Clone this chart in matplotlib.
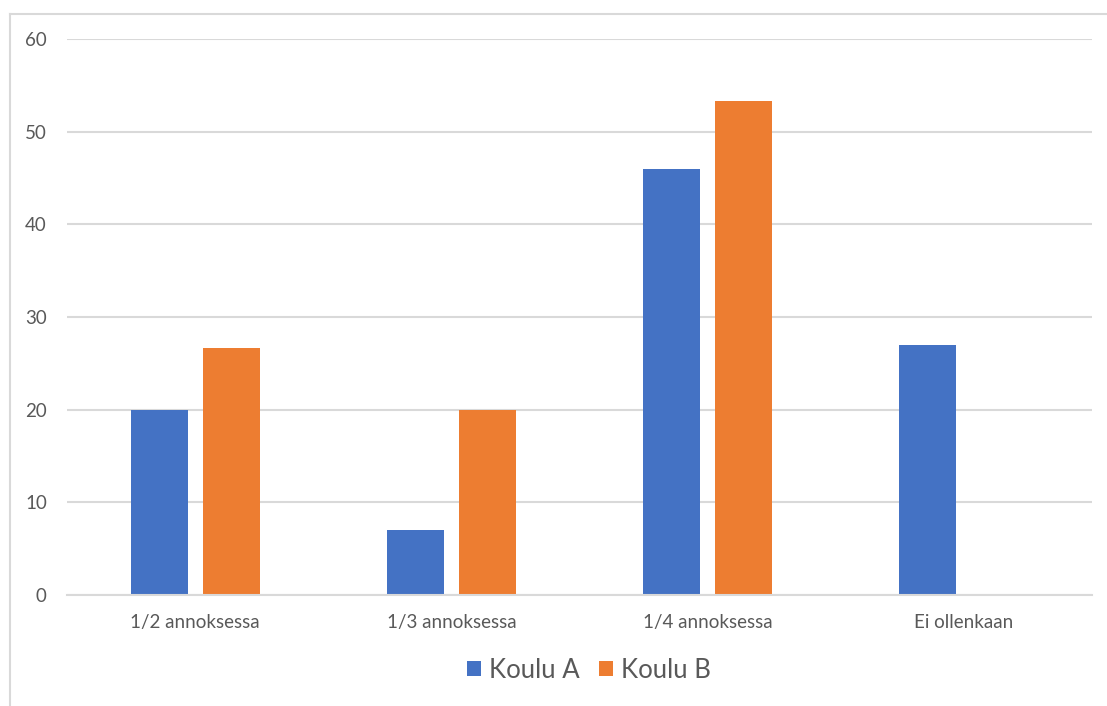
import matplotlib
matplotlib.use("Agg")
import matplotlib.pyplot as plt
from matplotlib.lines import Line2D
from matplotlib.patches import Patch
import numpy as np

categories = ["1/2 annoksessa", "1/3 annoksessa", "1/4 annoksessa", "Ei ollenkaan"]
series_names = ["Koulu A", "Koulu B"]
koulu_a = [20, 7, 46, 27]
koulu_b = [26.7, 20, 53.3, 0]
y_ticks = [0, 10, 20, 30, 40, 50, 60]

colors = ["#4472C4", "#ED7D31"]
text_color = "#595959"
grid_color = "#D9D9D9"

plt.rcParams["font.family"] = ["Lato", "DejaVu Sans"]

W, H = 1107, 706
fig = plt.figure(figsize=(W / 100, H / 100), dpi=100)
ax = fig.add_axes([67 / W, 1 - 595 / H, (1092 - 67) / W, (595 - 39) / H])

x = np.arange(len(categories))
width = 0.222
offset = 0.1405
ax.bar(x - offset, koulu_a, width, color=colors[0], label=series_names[0], zorder=3)
ax.bar(x + offset, koulu_b, width, color=colors[1], label=series_names[1], zorder=3)

ax.set_xlim(-0.5, len(categories) - 0.5)
ax.set_ylim(0, 60)
ax.set_yticks(y_ticks)
ax.set_xticks(x)
ax.set_xticklabels(categories)
ax.yaxis.grid(True, color=grid_color, linewidth=1.5, zorder=0)
ax.set_axisbelow(True)
for s in ["top", "right", "left"]:
    ax.spines[s].set_visible(False)
ax.spines["bottom"].set_color(grid_color)
ax.spines["bottom"].set_linewidth(1.5)
ax.spines["bottom"].set_zorder(4)
ax.tick_params(axis="both", length=0, labelsize=13.5, labelcolor=text_color)
ax.tick_params(axis="y", pad=14.5)
ax.tick_params(axis="x", pad=14)

handles = [Patch(facecolor=c, label=n) for c, n in zip(colors, series_names)]
fig.legend(handles=handles, loc="center", bbox_to_anchor=(589 / W, 1 - 670 / H),
           ncol=2, frameon=False, fontsize=18.5, labelcolor=text_color,
           handlelength=0.55, handleheight=0.55, handletextpad=0.3, columnspacing=0.75)

# outer chart frame (top and left edges)
fig.add_artist(Line2D([10 / W, 1], [1 - 14 / H, 1 - 14 / H], color=grid_color, linewidth=1.5))
fig.add_artist(Line2D([10 / W, 10 / W], [0, 1 - 14 / H], color=grid_color, linewidth=1.5))

fig.savefig("out.png", dpi=100)
